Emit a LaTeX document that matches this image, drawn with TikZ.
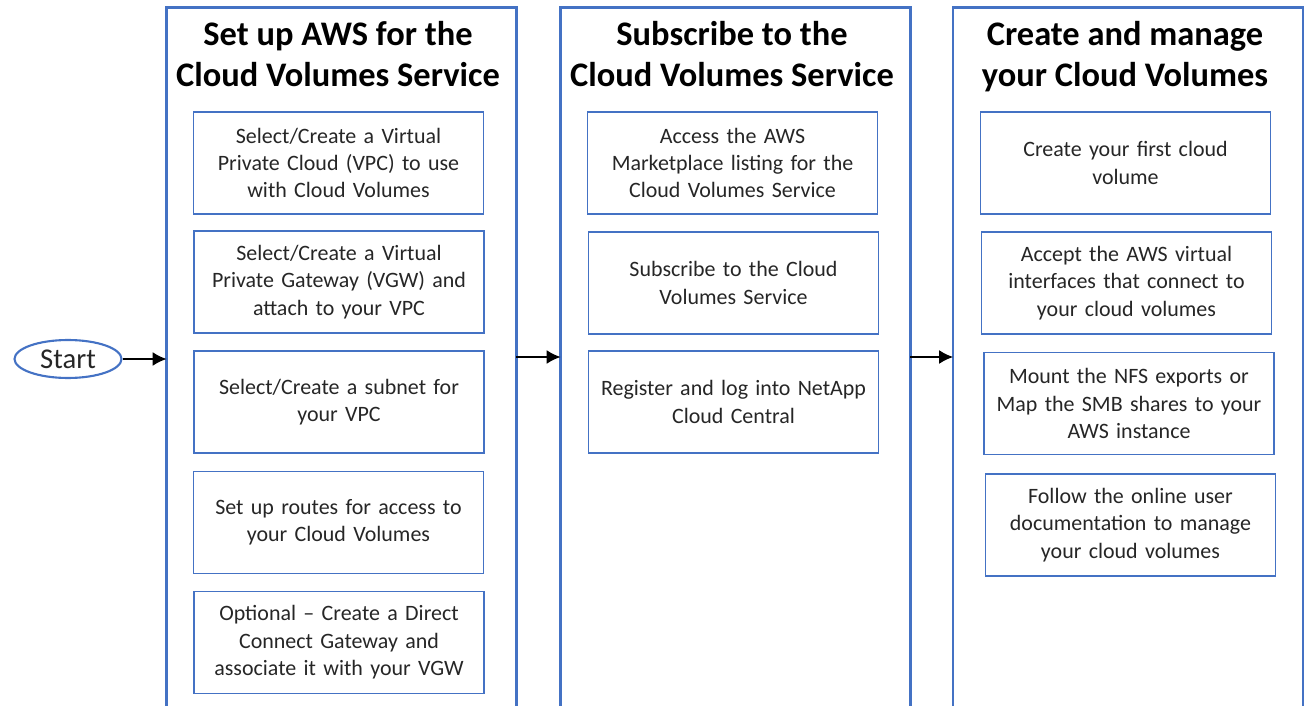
\documentclass[tikz,border=0pt]{standalone}
\usepackage{fontspec}
\setmainfont{Carlito}
\usetikzlibrary{arrows.meta,shapes.geometric}
\definecolor{lanebl}{RGB}{68,114,196}

\begin{document}
\begin{tikzpicture}[x=0.02cm, y=-0.02cm,
    lane/.style={minimum width=6.98cm, minimum height=13.96cm, inner sep=0pt},
    laneline/.style={draw=lanebl, line width=1.4pt},
    lanetitle/.style={font=\fontsize{19.6}{23.8}\selectfont\bfseries, align=center, anchor=base},
    taskbox/.style={draw=lanebl, line width=0.8pt, minimum width=5.8cm, minimum height=2.04cm,
        text width=5.5cm, align=center, inner sep=0pt, text=black!85,
        font=\fontsize{12.5}{15.6}\selectfont},
    flow/.style={line width=1.2pt, -{Latex[length=2.8mm, width=2.8mm]}}]
    \useasboundingbox (0,0) rectangle (1306,706);

    % Start
    \node (start) [ellipse, draw=lanebl, line width=1.2pt, minimum width=2.14cm, minimum height=0.76cm,
        inner sep=0pt, font=\fontsize{16.3}{19}\selectfont, text=black!85] at (68,359) {Start};

    % Lanes
    \node (setup) [lane] at (341.5,357) {};
    \node (subscr) [lane] at (735.5,357) {};
    \node (manage) [lane] at (1128,357) {};
    \draw[laneline] (setup.south west) |- (setup.north east) -- (setup.south east);
    \draw[laneline] (subscr.south west) |- (subscr.north east) -- (subscr.south east);
    \draw[laneline] (manage.south west) |- (manage.north east) -- (manage.south east);

    % Lane titles (base = last line)
    \node (setupT) [lanetitle] at (338,87) {Set up AWS for the\\Cloud Volumes Service};
    \node (subscrT) [lanetitle] at (732,87) {Subscribe to the\\Cloud Volumes Service};
    \node (manageT) [lanetitle] at (1125,87) {Create and manage\\your Cloud Volumes};

    % Set up AWS
    \node (vpc) [taskbox] at (338.5,163) {Select/Create a Virtual\\Private Cloud (VPC) to use\\with Cloud Volumes};
    \node (vgw) [taskbox] at (339,282) {Select/Create a Virtual\\Private Gateway (VGW) and\\attach to your VPC};
    \node (subnet) [taskbox] at (339,402) {Select/Create a subnet for\\your VPC};
    \node (routes) [taskbox] at (338.5,522.5) {Set up routes for access to\\your Cloud Volumes};
    \node (dcgw) [taskbox] at (339,642.5) {Optional -- Create a Direct\\Connect Gateway and\\associate it with your VGW};

    % Subscribe
    \node (market) [taskbox] at (732.5,163) {Access the AWS\\Marketplace listing for the\\Cloud Volumes Service};
    \node (subs) [taskbox] at (733.5,283) {Subscribe to the Cloud\\Volumes Service};
    \node (login) [taskbox] at (733.5,402) {Register and log into NetApp\\Cloud Central};

    % Create and manage
    \node (firstvol) [taskbox] at (1125.5,163) {Create your first cloud\\volume};
    \node (vif) [taskbox] at (1126.5,283) {Accept the AWS virtual\\interfaces that connect to\\your cloud volumes};
    \node (mount) [taskbox] at (1129,403.5) {Mount the NFS exports or\\Map the SMB shares to your\\AWS instance};
    \node (docs) [taskbox] at (1130.5,525) {Follow the online user\\documentation to manage\\your cloud volumes};

    % Flow
    \draw[flow] (start) -- (start -| setup.west);
    \draw[flow] (setup.east) -- (subscr.west);
    \draw[flow] (subscr.east) -- (manage.west);
\end{tikzpicture}
\end{document}
